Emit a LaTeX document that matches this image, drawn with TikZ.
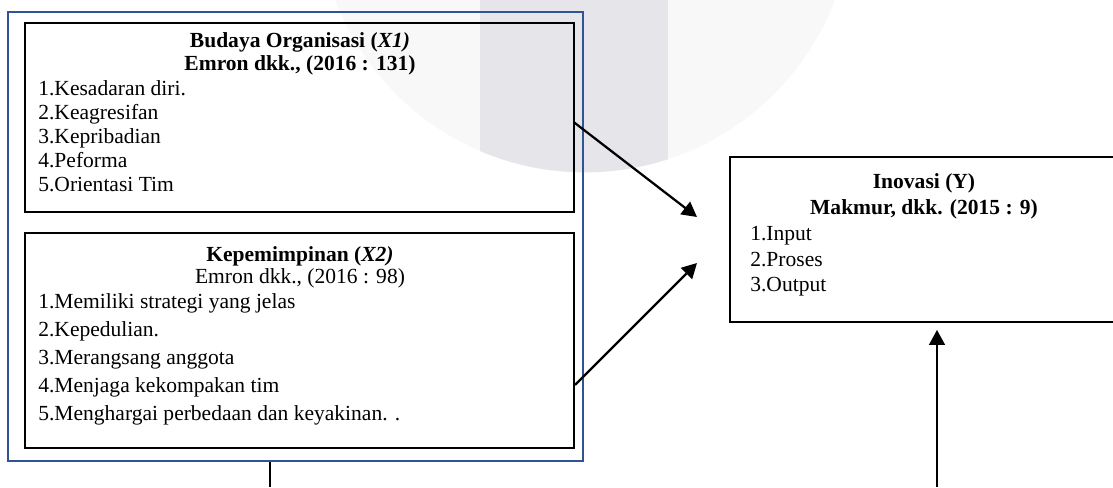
\documentclass[tikz,border=0pt]{standalone}
\usepackage{fontspec}
\setmainfont{Liberation Serif}
\usetikzlibrary{arrows.meta,fit}
\definecolor{frameblue}{RGB}{47,84,150}
\definecolor{markgrey}{RGB}{248,248,248}
\definecolor{markband}{RGB}{230,230,234}
\tikzset{
  box/.style={draw, line width=1.1pt, inner sep=0pt},
  header/.style={anchor=base, inner sep=0pt, font=\fontsize{12.4}{15}\selectfont\bfseries},
  subheader/.style={anchor=base, inner sep=0pt, font=\fontsize{12.4}{15}\selectfont},
  item/.style={anchor=base west, inner sep=0pt, font=\fontsize{12.4}{15}\selectfont},
  link/.style={line width=1.3pt, -{Triangle[length=8.6pt,width=9pt]}}
}
\begin{document}
\begin{tikzpicture}[x=0.576pt, y=-0.576pt]
 \useasboundingbox (0,0) rectangle (1113,487);
 % watermark
 \begin{scope}
  \fill[markgrey] (585,-95) circle [radius=154pt];
  \clip (585,-95) circle [radius=154pt];
  \fill[markband] (480,0) rectangle (668,200);
 \end{scope}
 % variable X
 \node[box, draw=frameblue, fit={(8,12) (583,461)}] (frame) {};
 \node[box, line width=0.6pt, fit={(25,23) (574,212)}] (budaya) {};
 \node[header] (budayaT) at (300,47) {Budaya Organisasi (\textit{X1)}};
 \node[header] (budayaS) at (300,70) {Emron dkk., (2016 : 131)};
 \node[item] (b1) at (38,95) {1.Kesadaran diri.};
 \node[item] (b2) at (38,119) {2.Keagresifan};
 \node[item] (b3) at (38,143) {3.Kepribadian};
 \node[item] (b4) at (38,167) {4.Peforma};
 \node[item] (b5) at (38,191) {5.Orientasi Tim};
 \node[box, fit={(25,233) (574,448)}] (pimpin) {};
 \node[header] (pimpinT) at (300,261) {Kepemimpinan (\textit{X2)}};
 \node[subheader] (pimpinS) at (300,283) {Emron dkk., (2016 : 98)};
 \node[item] (p1) at (38,308) {1.Memiliki strategi yang jelas};
 \node[item] (p2) at (38,336) {2.Kepedulian.};
 \node[item] (p3) at (38,364) {3.Merangsang anggota};
 \node[item] (p4) at (38,392) {4.Menjaga kekompakan tim};
 \node[item] (p5) at (38,420) {5.Menghargai perbedaan dan keyakinan. .};
 % variable Y
 \node[box, fit={(730,157) (1117,322)}] (inovasi) {};
 \node[header] (inovasiT) at (924,188) {Inovasi (Y)};
 \node[header] (inovasiS) at (924,214) {Makmur, dkk. (2015 : 9)};
 \node[item] (i1) at (750,240) {1.Input};
 \node[item] (i2) at (750,266) {2.Proses};
 \node[item] (i3) at (750,291) {3.Output};
 % connectors
 \coordinate (tipA) at (697,217);
 \coordinate (tipB) at (697,263);
 \coordinate (fromBelow) at (937,487);
 \coordinate (toBelow) at (270,487);
 \draw[link] ([yshift=-3pt]budaya.east) -- (tipA);
 \draw[link] ([yshift=-25.6pt]pimpin.east) -- (tipB);
 \draw[link, shorten >=4pt] (fromBelow) -- (fromBelow |- inovasi.south);
 \draw[line width=1.3pt] (toBelow |- frame.south) -- (toBelow);
\end{tikzpicture}
\end{document}
